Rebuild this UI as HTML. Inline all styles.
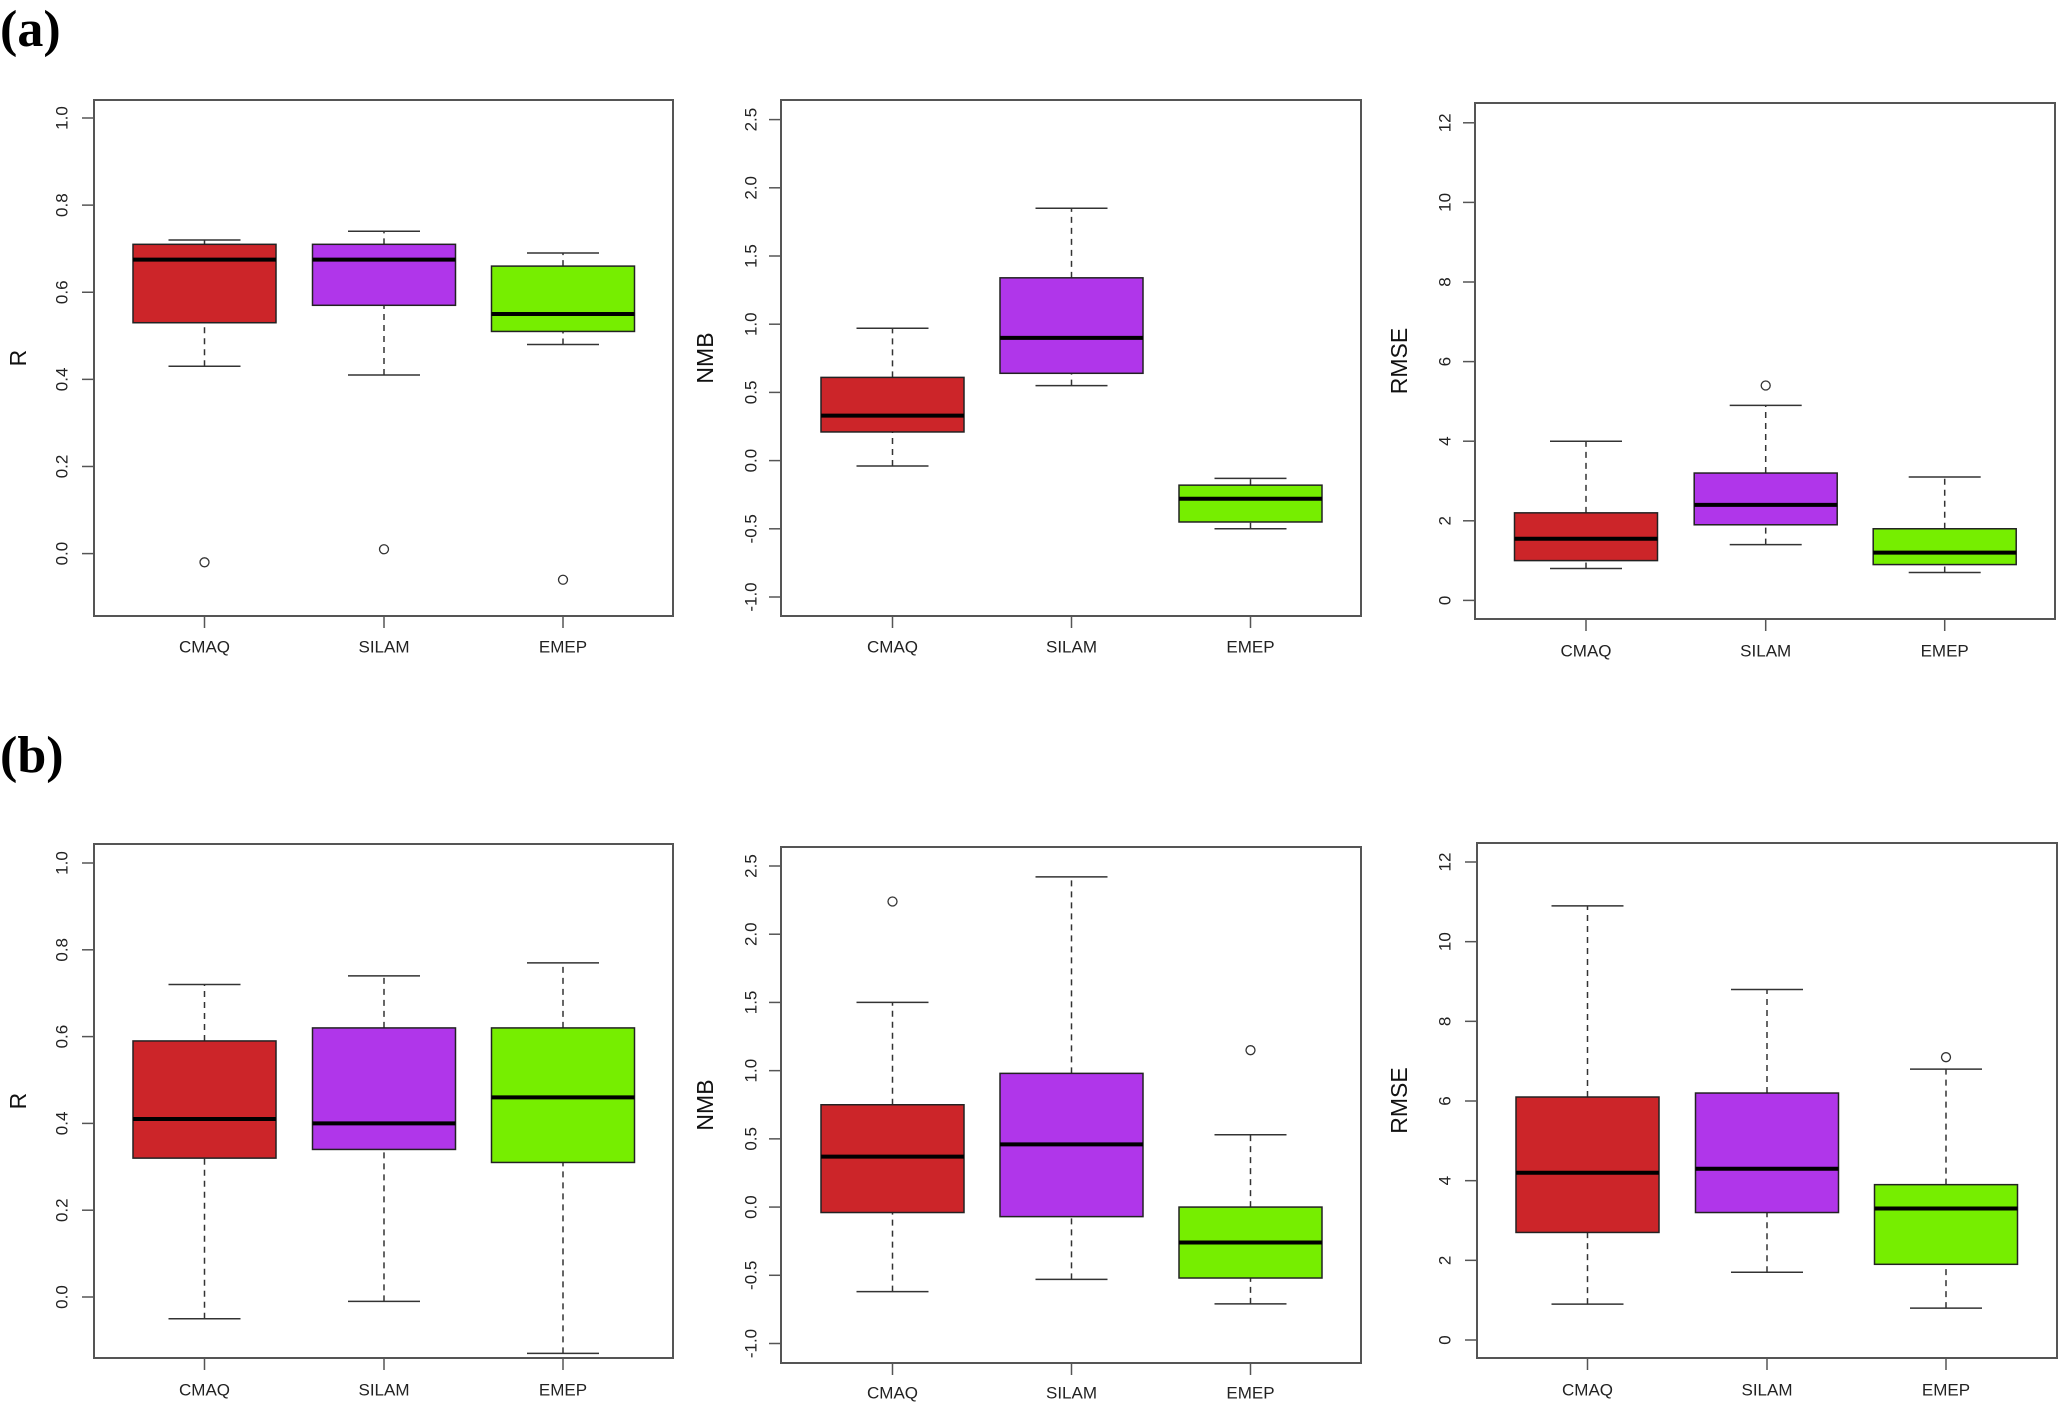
<!DOCTYPE html>
<html><head><meta charset="utf-8"><style>
html,body{margin:0;padding:0;background:#fff;}
svg{display:block;}
</style></head><body>
<svg id="fig" width="2067" height="1413" xmlns="http://www.w3.org/2000/svg">
<rect width="2067" height="1413" fill="#fff"/>
<text x="0" y="46" font-family="Liberation Serif, serif" font-weight="bold" font-size="52">(a)</text>
<text x="0" y="772" font-family="Liberation Serif, serif" font-weight="bold" font-size="52">(b)</text>
</svg>
<script>
const categories = ["CMAQ","SILAM","EMEP"];
const colors = ["#CC2529","#B036EA","#76EE00"];
// [lowWhisker, q1, median, q3, highWhisker]
const aR    = [[0.43,0.53,0.675,0.71,0.72],[0.41,0.57,0.675,0.71,0.74],[0.48,0.51,0.55,0.66,0.69]];
const aROut = [[-0.02],[0.01],[-0.06]];
const aNMB  = [[-0.04,0.21,0.33,0.61,0.97],[0.55,0.64,0.90,1.34,1.85],[-0.50,-0.45,-0.28,-0.18,-0.13]];
const aNMBOut = [[],[],[]];
const aRMSE = [[0.8,1.0,1.55,2.2,4.0],[1.4,1.9,2.4,3.2,4.9],[0.7,0.9,1.2,1.8,3.1]];
const aRMSEOut = [[],[5.4],[]];
const bR    = [[-0.05,0.32,0.41,0.59,0.72],[-0.01,0.34,0.40,0.62,0.74],[-0.13,0.31,0.46,0.62,0.77]];
const bROut = [[],[-0.165],[]];
const bNMB  = [[-0.62,-0.04,0.37,0.75,1.50],[-0.53,-0.07,0.46,0.98,2.42],[-0.71,-0.52,-0.26,0.0,0.53]];
const bNMBOut = [[2.24],[],[1.15]];
const bRMSE = [[0.9,2.7,4.2,6.1,10.9],[1.7,3.2,4.3,6.2,8.8],[0.8,1.9,3.3,3.9,6.8]];
const bRMSEOut = [[],[],[7.1]];
const rTicks = ["0.0","0.2","0.4","0.6","0.8","1.0"];
const nmbTicks = ["-1.0","-0.5","0.0","0.5","1.0","1.5","2.0","2.5"];
const rmseTicks = ["0","2","4","6","8","10","12"];

const NS="http://www.w3.org/2000/svg";
const svg=document.getElementById('fig');
function mk(tag,attrs,parent){const e=document.createElementNS(NS,tag);for(const k in attrs)e.setAttribute(k,attrs[k]);(parent||svg).appendChild(e);return e;}

const panels=[
 {id:'a-r',title:'R',stats:aR,out:aROut,ticks:rTicks,fx0:94,fx1:673,fy0:100,fy1:616,t0:0,y0:553.6,t1:1,y1:118,cx:[204.5,384,563],tlx:62,ttx:18,lab:647},
 {id:'a-nmb',title:'NMB',stats:aNMB,out:aNMBOut,ticks:nmbTicks,fx0:781,fx1:1361,fy0:100,fy1:616,t0:-1,y0:597,t1:2.5,y1:119.6,cx:[892.5,1071.5,1250.5],tlx:751,ttx:705,lab:647},
 {id:'a-rmse',title:'RMSE',stats:aRMSE,out:aRMSEOut,ticks:rmseTicks,fx0:1475,fx1:2055,fy0:103,fy1:619,t0:0,y0:600.4,t1:12,y1:122.8,cx:[1586,1765.7,1944.7],tlx:1445,ttx:1399,lab:651},
 {id:'b-r',title:'R',stats:bR,out:bROut,ticks:rTicks,fx0:94,fx1:673,fy0:844,fy1:1358,t0:0,y0:1297,t1:1,y1:863,cx:[204.5,384,563],tlx:62,ttx:18,lab:1390},
 {id:'b-nmb',title:'NMB',stats:bNMB,out:bNMBOut,ticks:nmbTicks,fx0:781,fx1:1361,fy0:847,fy1:1363,t0:-1,y0:1343.5,t1:2.5,y1:866,cx:[892.5,1071.5,1250.5],tlx:751,ttx:705,lab:1393},
 {id:'b-rmse',title:'RMSE',stats:bRMSE,out:bRMSEOut,ticks:rmseTicks,fx0:1477,fx1:2057,fy0:843,fy1:1358,t0:0,y0:1340,t1:12,y1:862,cx:[1587.5,1767,1946],tlx:1445,ttx:1399,lab:1390}
];
panels.forEach((p,pi)=>{
  const g=mk('g',{});
  
  
  const Y=v=>p.y0+(v-p.t0)*(p.y1-p.y0)/(p.t1-p.t0);
  const cid='clip'+pi;
  const cp=mk('clipPath',{id:cid},g);
  mk('rect',{x:p.fx0,y:p.fy0,width:p.fx1-p.fx0,height:p.fy1-p.fy0},cp);
  p.ticks.forEach(t=>{
    const v=parseFloat(t), y=Y(v);
    const l=mk('line',{x1:p.fx0-12,x2:p.fx0,y1:y,y2:y,stroke:'#555','stroke-width':1.5},g);
    
    
    const tx=mk('text',{x:p.tlx,y:y,transform:`rotate(-90 ${p.tlx} ${y})`,'text-anchor':'middle','dominant-baseline':'central','font-family':'Liberation Sans, sans-serif','font-size':17,fill:'#222'},g);
    tx.textContent=t;
    
    
  });
  const ym=(p.fy0+p.fy1)/2;
  const tt=mk('text',{x:p.ttx,y:ym,transform:`rotate(-90 ${p.ttx} ${ym})`,'text-anchor':'middle','dominant-baseline':'central','font-family':'Liberation Sans, sans-serif','font-size':23,fill:'#111'},g);
  tt.textContent=p.title;
  
  
  const pg=mk('g',{'clip-path':`url(#${cid})`},g);
  const hw=71.5, cw=36;
  p.stats.forEach((s,i)=>{
    const cx=p.cx[i];
    const bg=mk('g',{},pg);
    
    
    mk('line',{x1:cx,x2:cx,y1:Y(s[0]),y2:Y(s[1]),stroke:'#333','stroke-width':1.5,'stroke-dasharray':'6,5'},bg);
    mk('line',{x1:cx,x2:cx,y1:Y(s[3]),y2:Y(s[4]),stroke:'#333','stroke-width':1.5,'stroke-dasharray':'6,5'},bg);
    mk('line',{x1:cx-cw,x2:cx+cw,y1:Y(s[0]),y2:Y(s[0]),stroke:'#333','stroke-width':1.5},bg);
    mk('line',{x1:cx-cw,x2:cx+cw,y1:Y(s[4]),y2:Y(s[4]),stroke:'#333','stroke-width':1.5},bg);
    mk('rect',{x:cx-hw,y:Y(s[3]),width:2*hw,height:Y(s[1])-Y(s[3]),fill:colors[i],stroke:'#222','stroke-width':1.5},bg);
    mk('line',{x1:cx-hw,x2:cx+hw,y1:Y(s[2]),y2:Y(s[2]),stroke:'#000','stroke-width':4},bg);
    p.out[i].forEach(o=>{
      const c=mk('circle',{cx:cx,cy:Y(o),r:4.5,fill:'none',stroke:'#333','stroke-width':1.3},bg);
      
      
    });
    const xt=mk('line',{x1:cx,x2:cx,y1:p.fy1,y2:p.fy1+12,stroke:'#555','stroke-width':1.5},g);
    
    
    const xl=mk('text',{x:cx,y:p.lab,'text-anchor':'middle','dominant-baseline':'central','font-family':'Liberation Sans, sans-serif','font-size':17,fill:'#222'},g);
    xl.textContent=categories[i];
    
    
  });
  const fr=mk('rect',{x:p.fx0,y:p.fy0,width:p.fx1-p.fx0,height:p.fy1-p.fy0,fill:'none',stroke:'#555','stroke-width':2},g);
  
  
});
</script>
</body></html>
